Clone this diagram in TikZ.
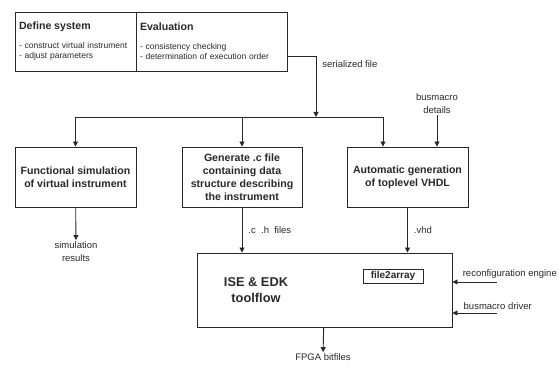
\documentclass[tikz,border=0pt]{standalone}
\usepackage{fontspec}
\setmainfont{Liberation Sans}
\usetikzlibrary{arrows.meta}
\definecolor{inkgray}{RGB}{40,40,40}
\tikzstyle{block} = [rectangle, draw, align=center, inner sep=2pt,
  minimum height=60pt, font=\fontsize{10.6}{13}\selectfont\bfseries]
\tikzstyle{panel} = [rectangle, draw, align=left, inner sep=4pt,
  minimum height=59pt, font=\fontsize{8.5}{10}\selectfont]
\tikzstyle{lbl} = [inner sep=1pt, align=center, font=\fontsize{9.5}{13}\selectfont]

\begin{document}
\begin{tikzpicture}[x=1pt, y=-1pt, line width=0.9pt, draw=inkgray, text=inkgray,
  >={Triangle[length=5pt,width=5pt]}]
  \useasboundingbox (0,0) rectangle (559,371);
  \node[panel, text width=113pt] (define) at (75.5, 41.5)
    {{\bfseries\fontsize{10.6}{13}\selectfont Define system}\\[9pt]
     - construct virtual instrument\\ - adjust parameters};
  \node[panel, text width=143pt] (eval) at (211.5, 41.5)
    {{\bfseries\fontsize{10.6}{13}\selectfont Evaluation}\\[9pt]
     - consistency checking\\ - determination of execution order};

  \node[block, minimum width=121pt] (func) at (75.5, 177)
    {Functional simulation\\of virtual instrument};
  \node[block, minimum width=120pt] (gen) at (242, 177)
    {Generate .c file\\containing data\\structure describing\\the instrument};
  \node[block, minimum width=121pt] (auto) at (407.5, 177)
    {Automatic generation\\of toplevel VHDL};

  \node[rectangle, draw, minimum width=255pt, minimum height=74pt] (ise) at (324.5, 290) {};
  \node[font=\fontsize{12.8}{16}\selectfont\bfseries, align=center] (isetext) at (256, 290)
    {ISE \& EDK\\toolflow};
  \node[rectangle, draw, minimum width=60pt, minimum height=14pt, inner sep=1pt,
    font=\fontsize{10}{12}\selectfont\bfseries] (f2a) at (393, 276) {file2array};

  \node[lbl] (details) at (437, 104) {busmacro\\details};
  \node[lbl] (simres) at (76, 251.5) {simulation\\results};
  \node[lbl] (fpga) at (323, 357) {FPGA bitfiles};

  \coordinate (bus) at (316, 117);
  \coordinate (busl) at (75.5, 117);
  \coordinate (busr) at (383, 117);
  \coordinate (reconf) at (497, 282);
  \coordinate (bmdrv) at (497, 313);

  \path[draw,->] ([yshift=-14.5pt]eval.east) -| node[lbl, anchor=west, pos=0.566, xshift=5pt] {serialized file} (bus);
  \path[draw] (busl) -- (busr);
  \path[draw,->] (busl) -- (func);
  \path[draw,->] (gen |- bus) -- (gen);
  \path[draw,->] (busr) -- (busr |- auto.north);
  \path[draw,->] (details.south -| 437,0) -- (auto.north -| 437,0);
  \path[draw,->] (func) -- (simres);
  \path[draw,->] (gen) -- node[lbl, anchor=west, xshift=5pt] {.c~ .h~ files} (gen |- ise.north);
  \path[draw,->] (auto) -- node[lbl, anchor=west, xshift=5pt] {.vhd} (auto |- ise.north);
  \path[draw,->] (reconf) -- node[lbl, anchor=south west, pos=0.8, yshift=2pt] {reconfiguration engine} (reconf -| ise.east);
  \path[draw,->] (bmdrv) -- node[lbl, anchor=south west, pos=0.78, yshift=2pt] {busmacro driver} (bmdrv -| ise.east);
  \path[draw,->] (ise) -- (fpga);
\end{tikzpicture}
\end{document}
